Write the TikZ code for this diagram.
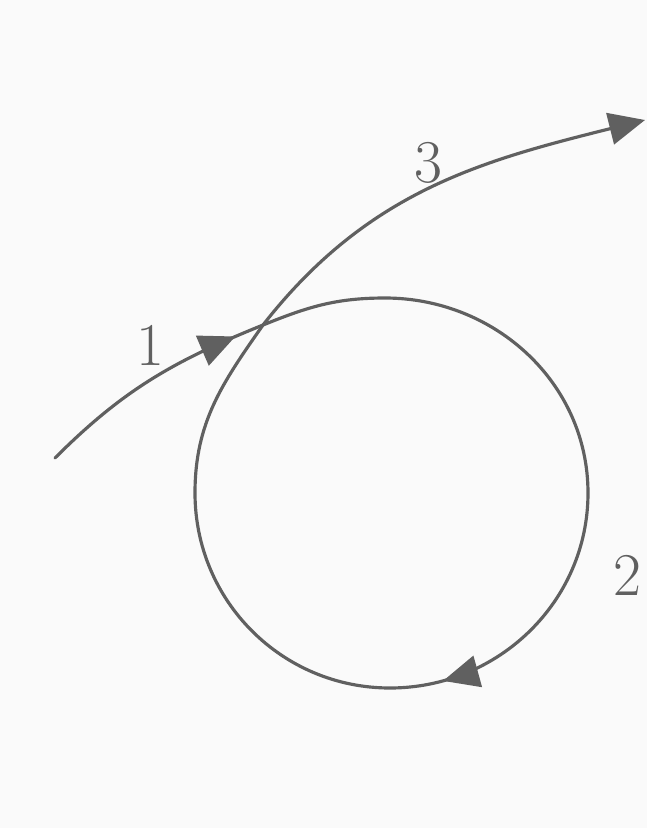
\documentclass[tikz,border=0pt]{standalone}
\usepackage{tikz}
\usetikzlibrary{arrows.meta,decorations.markings}

\tikzset{
  orbit/.style={line width=0.9pt, gray!75!black, line cap=round},
  midarrow/.style={postaction={decorate}, decoration={markings,
      mark=at position #1 with {\arrow{Triangle[length=3.6mm,width=3.2mm]}}}},
  numlabel/.style={font=\LARGE, gray!75!black}
}

\begin{document}
\begin{tikzpicture}
  % Background and bounding box, same proportions as the sketch
  \fill[gray!4] (0,0) rectangle (6.47,-8.28);
  \useasboundingbox (0,0) rectangle (6.47,-8.28);
  % Points of the trajectory
  \coordinate (start) at (0.55,-4.58);
  \coordinate (cross) at (2.63,-3.25);
  \coordinate (top) at (3.85,-2.98);
  \coordinate (right) at (5.88,-4.93);
  \coordinate (bottom) at (3.90,-6.88);
  \coordinate (left) at (1.95,-4.93);
  \coordinate (end) at (6.45,-1.20);
  % Incoming branch
  \draw[orbit, midarrow=0.88] (start) to[out=45,in=202] (cross);
  % The loop
  \draw[orbit, midarrow=0.56] (cross) to[out=22,in=180] (top)
    to[out=0,in=90] (right) to[out=-90,in=0] (bottom)
    to[out=180,in=-90] (left) to[out=90,in=235] (cross);
  % Outgoing branch
  \draw[orbit, -{Triangle[length=3.6mm,width=3.2mm]}] (cross) to[out=52,in=194] (end);
  % Labels
  \node[numlabel] (lab1) at (1.50,-3.45) {1};
  \node[numlabel] (lab2) at (6.27,-5.75) {2};
  \node[numlabel] (lab3) at (4.28,-1.63) {3};
\end{tikzpicture}
\end{document}
